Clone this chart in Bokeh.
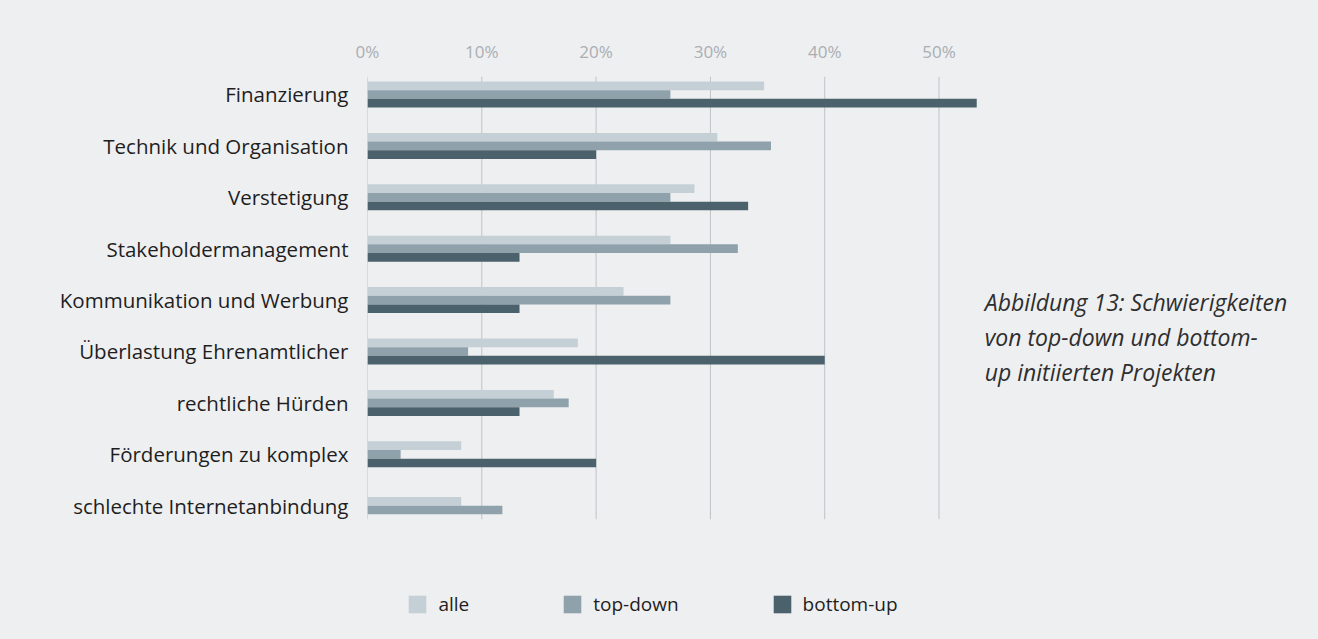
from bokeh.plotting import figure
from bokeh.models import Range1d, FixedTicker, ColumnDataSource, Legend, LegendItem
from bokeh.core.properties import value
from bokeh.embed import file_html
from bokeh.resources import INLINE

categories = [
    "Finanzierung",
    "Technik und Organisation",
    "Verstetigung",
    "Stakeholdermanagement",
    "Kommunikation und Werbung",
    "Überlastung Ehrenamtlicher",
    "rechtliche Hürden",
    "Förderungen zu komplex",
    "schlechte Internetanbindung",
]
alle = [34.7, 30.6, 28.6, 26.5, 22.4, 18.4, 16.3, 8.2, 8.2]
top_down = [26.5, 35.3, 26.5, 32.4, 26.5, 8.8, 17.6, 2.9, 11.8]
bottom_up = [53.3, 20.0, 33.3, 13.3, 13.3, 40.0, 13.3, 20.0, None]

series_names = ["alle", "top-down", "bottom-up"]
series_values = [alle, top_down, bottom_up]
series_colors = ["#C5D0D6", "#8FA2AB", "#4B616C"]

x_ticks = [0, 10, 20, 30, 40, 50]
x_tick_labels = ["0%", "10%", "20%", "30%", "40%", "50%"]

caption = ["Abbildung 13: Schwierigkeiten", "von top-down und bottom-", "up initiierten Projekten"]

FONT = "Open Sans"
BG = "#EEEFF1"
BAR_H = 0.1686
PAD_TOP = 0.35      # space above the first category (in category units)
PAD_BOTTOM = 0.263  # space below the last category, where the grid ends

n_cat = len(categories)
grid_top = -PAD_TOP
grid_bottom = (n_cat - 1) + PAD_BOTTOM

p = figure(
    width=1318, height=639,
    x_range=Range1d(0, 83.2),
    y_range=Range1d(10.603, grid_top),
    output_backend="svg", toolbar_location=None,
    x_axis_location="above",
    min_border_left=367, min_border_right=0,
    min_border_top=76, min_border_bottom=0,
)
p.background_fill_color = BG
p.border_fill_color = BG
p.outline_line_color = None
p.xgrid.grid_line_color = None
p.ygrid.grid_line_color = None

# vertical grid lines at the tick values, ending below the last category
p.segment(x0=x_ticks, x1=x_ticks, y0=[grid_top] * len(x_ticks), y1=[grid_bottom] * len(x_ticks),
          line_color="#BFC3C6", line_width=1)

# bars: centre the bars that are present in each category
renderers = []
for s_idx, (name, vals, col) in enumerate(zip(series_names, series_values, series_colors)):
    ys, xs = [], []
    for c_idx, v in enumerate(vals):
        if v is None:
            continue
        present = [k for k in range(len(series_values)) if series_values[k][c_idx] is not None]
        n = len(present)
        pos = present.index(s_idx)
        ys.append(c_idx + (pos - (n - 1) / 2) * BAR_H)
        xs.append(v)
    src = ColumnDataSource(dict(y=ys, right=xs))
    r = p.hbar(y="y", right="right", left=0, height=BAR_H, source=src,
               fill_color=col, line_color=None)
    renderers.append(r)

# x axis (top)
xa = p.xaxis[0]
xa.ticker = FixedTicker(ticks=x_ticks)
xa.major_label_overrides = {t: l for t, l in zip(x_ticks, x_tick_labels)}
xa.axis_line_color = None
xa.major_tick_line_color = None
xa.minor_tick_line_color = None
xa.major_tick_out = 0
xa.major_label_standoff = 14
xa.major_label_text_font = FONT
xa.major_label_text_font_size = "17px"
xa.major_label_text_color = "#A9AEB3"

# y axis (categories)
ya = p.yaxis[0]
ya.ticker = FixedTicker(ticks=list(range(n_cat)))
ya.major_label_overrides = {i: c for i, c in enumerate(categories)}
ya.axis_line_color = None
ya.major_tick_line_color = None
ya.minor_tick_line_color = None
ya.major_tick_out = 0
ya.major_label_standoff = 19
ya.major_label_text_font = FONT
ya.major_label_text_font_size = "20.5px"
ya.major_label_text_color = "#1E1E1E"

# caption
p.text(x=[54.0] * 3, y=[4.04, 4.72, 5.40], text=caption,
       text_font=value(FONT), text_font_style="italic", text_font_size="23px",
       text_color="#2E2E2E", text_baseline="alphabetic", text_align="left")

legend = Legend(
    items=[LegendItem(label=n, renderers=[r]) for n, r in zip(series_names, renderers)],
    orientation="horizontal",
    location=(39.4, 22.3),
    padding=0, margin=0, spacing=92,
    glyph_width=22, glyph_height=22, label_height=22,
    label_standoff=10,
    label_text_font=FONT, label_text_font_size="19px", label_text_color="#1E1E1E",
    background_fill_alpha=0, border_line_alpha=0,
)
p.add_layout(legend, "center")

html = file_html(p, INLINE)
html = html.replace("<head>", "<head><style>html,body{background:%s;margin:0;}</style>" % BG, 1)
open("out.html", "w").write(html)
